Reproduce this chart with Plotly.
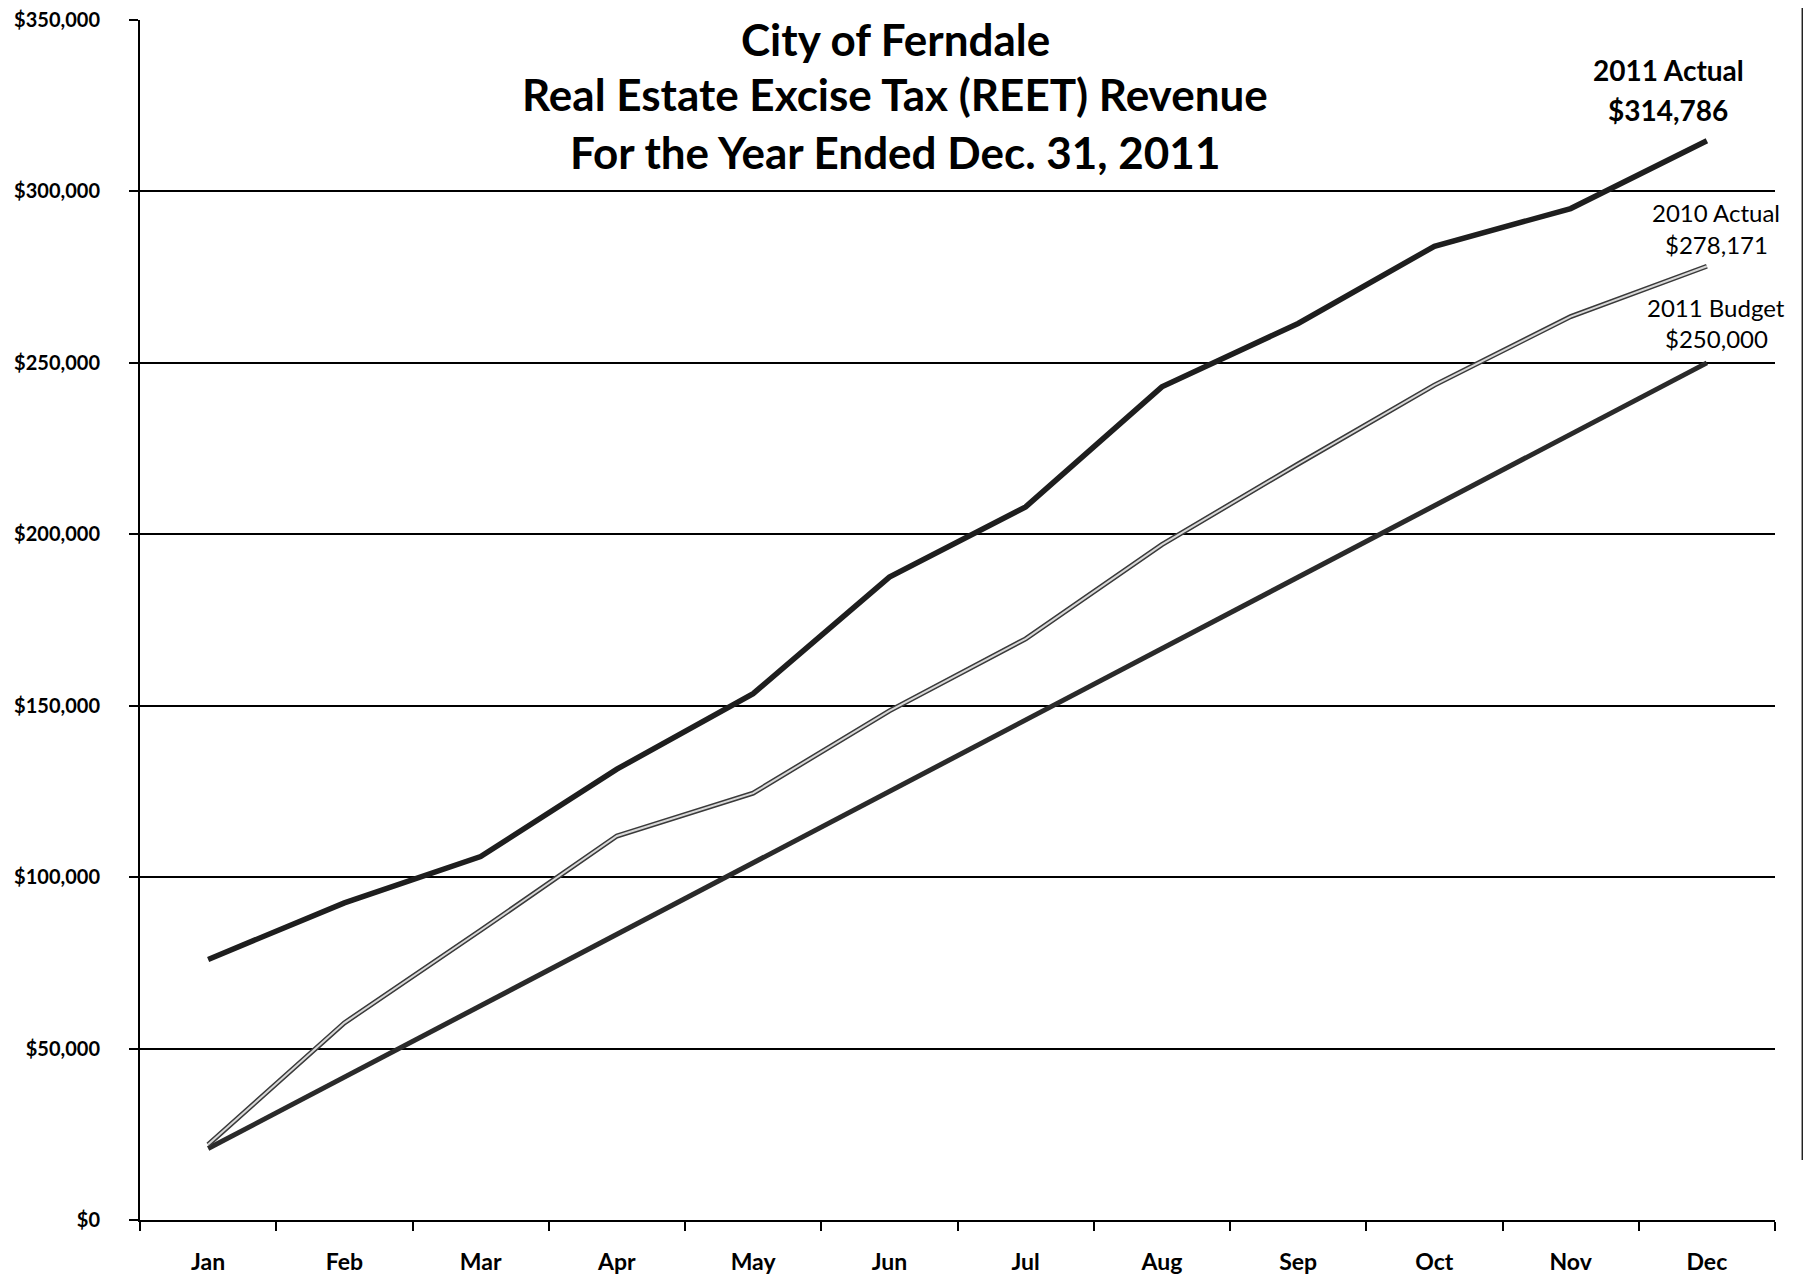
import plotly.graph_objects as go

months = ["Jan", "Feb", "Mar", "Apr", "May", "Jun", "Jul", "Aug", "Sep", "Oct", "Nov", "Dec"]
actual_2011 = [76000, 92500, 106000, 131500, 153500, 187500, 208000, 243000, 261500, 284000, 295000, 314786]
actual_2010 = [22000, 57500, 84500, 112000, 124500, 148500, 169500, 197000, 220500, 243500, 263500, 278171]
budget_2011 = [20833, 41667, 62500, 83333, 104167, 125000, 145833, 166667, 187500, 208333, 229167, 250000]
y_ticks = [0, 50000, 100000, 150000, 200000, 250000, 300000, 350000]
y_tick_labels = ["$0", "$50,000", "$100,000", "$150,000", "$200,000", "$250,000", "$300,000", "$350,000"]
title_lines = ["City of Ferndale", "Real Estate Excise Tax (REET) Revenue", "For the Year Ended Dec. 31, 2011"]

FONT = "Lato"

fig = go.Figure()
fig.add_trace(go.Scatter(x=months, y=budget_2011, mode="lines",
                         line=dict(color="#2a2a2a", width=5), name="2011 Budget", showlegend=False))
fig.add_trace(go.Scatter(x=months, y=actual_2010, mode="lines",
                         line=dict(color="#3a3a3a", width=5), name="2010 Actual", showlegend=False))
fig.add_trace(go.Scatter(x=months, y=actual_2010, mode="lines",
                         line=dict(color="#d8d8d8", width=2), name="2010 Actual core", showlegend=False))
fig.add_trace(go.Scatter(x=months, y=actual_2011, mode="lines",
                         line=dict(color="#1e1e1e", width=5.5), name="2011 Actual", showlegend=False))

annotations = []
for txt, yp in zip(title_lines, [0.9842, 0.9384, 0.89]):
    annotations.append(dict(text=f"<b>{txt}</b>", x=0.462, y=yp, xref="paper", yref="paper",
                            showarrow=False, xanchor="center", yanchor="middle",
                            font=dict(family=FONT, size=44, color="black")))

labels = [
    ("<b>2011 Actual</b>", 0.9346, 0.9583, 28),
    ("<b>$314,786</b>", 0.9346, 0.925, 28),
    ("2010 Actual", 0.964, 0.84, 24),
    ("$278,171", 0.964, 0.8133, 24),
    ("2011 Budget", 0.964, 0.7608, 24),
    ("$250,000", 0.964, 0.735, 24),
]
for txt, xp, yp, sz in labels:
    annotations.append(dict(text=txt, x=xp, y=yp, xref="paper", yref="paper", showarrow=False,
                            xanchor="center", yanchor="middle",
                            font=dict(family=FONT, size=sz, color="black")))

fig.update_layout(
    width=1811, height=1278,
    margin=dict(l=132, r=44, t=12, b=66),
    paper_bgcolor="white", plot_bgcolor="white",
    annotations=annotations,
    font=dict(family=FONT, color="black"),
    shapes=[dict(type="line", xref="paper", yref="paper", x0=1.017, x1=1.017, y0=1.01, y1=0.05,
                 line=dict(color="#222222", width=2.5))],
)
fig.update_xaxes(
    type="category", range=[-0.5, 11.5], tickson="boundaries",
    ticks="outside", ticklen=9, tickwidth=1.5, tickcolor="black",
    showline=True, linecolor="black", linewidth=2,
    showgrid=False, tickfont=dict(family=FONT, size=23, color="black"),
    ticklabelstandoff=20, automargin=False,
    tickvals=months, ticktext=[f"<b>{m}</b>" for m in months],
)
fig.update_yaxes(
    range=[0, 350000], tickvals=y_ticks, ticktext=[f"<b>{t}</b>" for t in y_tick_labels],
    ticks="outside", ticklen=9, tickwidth=1.5, tickcolor="black",
    showline=True, linecolor="black", linewidth=2,
    showgrid=True, gridcolor="black", gridwidth=1.5,
    zeroline=False, tickfont=dict(family=FONT, size=20, color="black"),
    ticklabelstandoff=25, automargin=False, ticklabeloverflow="allow",
)

fig.write_html("out.html")
